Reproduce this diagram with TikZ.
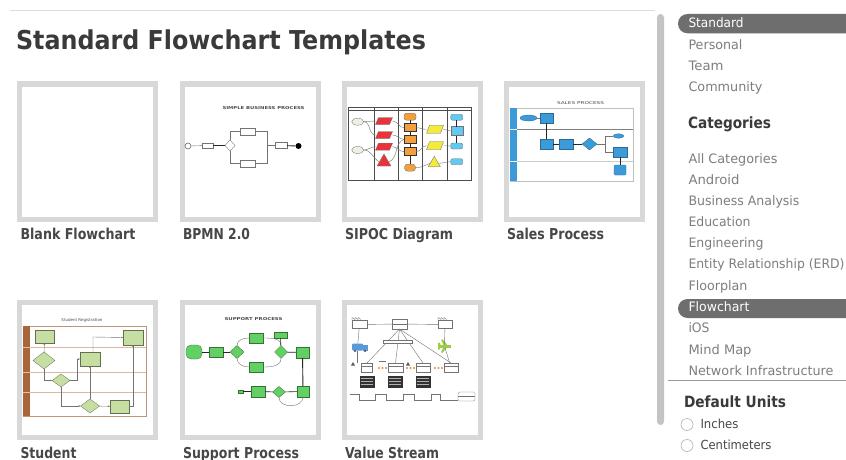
\documentclass[tikz,border=0pt]{standalone}
\usepackage{fontspec}
\usepackage{graphicx}
\setmainfont{DejaVu Sans}
\usetikzlibrary{shapes.geometric,arrows.meta,calc}
% set a text to a given width, keeping its natural height
\newcommand\fitw[2]{\resizebox{#1pt}{\height}{#2}}
% slanted data box: name, x, y, width, height, fill colour
\newcommand\slantbox[6]{%
  \node[box={#4}{#5}] (#1) at (#2,#3) {};
  \filldraw[mini,fill=#6] (#1.south west) -- ($(#1.south east)+(-3,0)$) -- (#1.north east)
    -- ($(#1.north west)+(3,0)$) -- cycle;}
\definecolor{framegray}{HTML}{D8D8D8}
\definecolor{titlegray}{HTML}{3A3A3A}
\definecolor{labelgray}{HTML}{474747}
\definecolor{itemgray}{HTML}{7E7E7E}
\definecolor{pillgray}{HTML}{6E6E6E}
\definecolor{rulegray}{HTML}{DDDDDD}
\definecolor{bargray}{HTML}{C4C4C4}
\definecolor{redfill}{HTML}{E8333B}
\definecolor{orangefill}{HTML}{F2A03D}
\definecolor{yellowfill}{HTML}{F2EA3C}
\definecolor{cyanfill}{HTML}{62C9F2}
\definecolor{beigefill}{HTML}{F0F0E2}
\definecolor{salesblue}{HTML}{3C9AD8}
\definecolor{stugreen}{HTML}{C6DEA2}
\definecolor{stubrown}{HTML}{A9643A}
\definecolor{supgreen}{HTML}{62D062}
\definecolor{truckblue}{HTML}{5A9AD8}
\definecolor{planegreen}{HTML}{9ACD4A}
\definecolor{dotorange}{HTML}{E08A2E}

\begin{document}
\begin{tikzpicture}[x=1pt,y=-1pt,
  txt/.style={anchor=base west,inner sep=0pt,outer sep=0pt},
  heading/.style={txt,text=titlegray,font=\fontsize{15.5}{16}\selectfont\bfseries},
  caption/.style={txt,text=labelgray,font=\fontsize{15}{16}\selectfont\bfseries},
  item/.style={txt,text=itemgray,font=\fontsize{13}{14}\selectfont},
  thumb/.style={draw=framegray,line width=5pt,fill=white,inner sep=0pt,
    minimum width=136pt,minimum height=135pt,anchor=north west},
  box/.style 2 args={rectangle,inner sep=0pt,outer sep=0pt,minimum width=#1pt,minimum height=#2pt},
  dia/.style 2 args={diamond,inner sep=0pt,outer sep=0pt,minimum width=#1pt,minimum height=#2pt},
  ell/.style 2 args={ellipse,inner sep=0pt,outer sep=0pt,minimum width=#1pt,minimum height=#2pt},
  tri/.style={regular polygon,regular polygon sides=3,inner sep=0pt,outer sep=0pt,minimum size=#1pt},
  tiny/.style={inner sep=0pt,font=\fontsize{4}{4}\selectfont\bfseries,text=black!70},
  mini/.style={draw=black!55,line width=0.35pt},
  link/.style={draw=black!55,line width=0.4pt},
  heavy/.style={draw=black!85,line width=0.9pt},
  arr/.style={link,-{Stealth[length=2pt,width=1.6pt]}},
]
\useasboundingbox (0,0) rectangle (846,460);
\fill[white] (0,0) rectangle (846,460);

% ---------- main panel ----------
\draw[rulegray,line width=1pt] (10,11) -- (655,11);
\node[txt,text=titlegray] (title) at (16,50)
  {\fontsize{26}{26}\selectfont\bfseries\fitw{410}{Standard Flowchart Templates}};

% template frames
\node[thumb] (fBlank)   at (16.5,81.5)   {};
\node[thumb] (fBpmn)    at (179.5,81.5)  {};
\node[thumb] (fSipoc)   at (341.5,81.5)  {};
\node[thumb] (fSales)   at (503.5,81.5)  {};
\node[thumb] (fStudent) at (16.5,299.5)  {};
\node[thumb] (fSupport) at (179.5,299.5) {};
\node[thumb] (fValue)   at (341.5,299.5) {};

% captions
\node[caption] (cBlank)   at (20.5,239.3) {\fitw{115}{Blank Flowchart}};
\node[caption] (cBpmn)    at (183,239.3)  {\fitw{67}{BPMN 2.0}};
\node[caption] (cSipoc)   at (345,239.3)  {\fitw{108}{SIPOC Diagram}};
\node[caption] (cSales)   at (507,239.3)  {\fitw{97}{Sales Process}};
\node[caption] (cStudent) at (20.5,458)   {\fitw{56}{Student}};
\node[caption] (cSupport) at (183,458)    {\fitw{116}{Support Process}};
\node[caption] (cValue)   at (345,458)    {\fitw{94}{Value Stream}};

% ---------- BPMN 2.0 ----------
\node[tiny] (bpT) at (263.5,108) {\fitw{82}{SIMPLE BUSINESS PROCESS}};
\node[circle,draw=black!60,line width=0.6pt,minimum size=6pt,inner sep=0pt] (bpS) at (188,146) {};
\node[box={11}{5},mini,fill=white] (bp1) at (207.5,145.5) {};
\node[dia={10}{11},mini,fill=white] (bpG) at (230,145.5) {};
\node[box={15}{7},mini] (bpU) at (247.5,131.5) {};
\node[box={15}{7},mini] (bpL) at (247.5,163.5) {};
\node[box={12}{6},mini] (bpM) at (281,145.5) {};
\node[circle,fill=black,minimum size=6pt,inner sep=0pt] (bpE) at (298.5,146) {};
\coordinate (bpJ) at (267,145.5);
\draw[link] (bpS) -- (bp1);
\draw[heavy,line width=0.7pt] (bp1) -- (bpG);
\draw[link] (bpG.north) |- (bpU.west);
\draw[link] (bpG.south) |- (bpL.west);
\draw[link] (bpU.east) -| (bpJ) -- (bpM.west);
\draw[link] (bpL.east) -| (bpJ);
\draw[heavy] (bpM) -- (bpE);

% ---------- SIPOC ----------
\draw[black!70,line width=0.8pt] (348,107) rectangle (471,180);
\draw[black!70,line width=0.4pt] (348,110.5) -- (471,110.5);
\foreach \cx in {374,398,422,447} \draw[black!70,line width=0.6pt] (\cx,107) -- (\cx,180);
\node[ell={12}{7},mini,fill=beigefill] (sE1) at (357.7,121.7) {};
\node[ell={12}{7},mini,fill=beigefill] (sE2) at (357.7,150) {};
\slantbox{sR1}{384}{121}{17}{7}{redfill}
\slantbox{sR2}{384}{135}{17}{7}{redfill}
\slantbox{sR3}{384}{146.7}{17}{7}{redfill}
\node[tri={16},mini,fill=redfill] (sR4) at (384,162) {};
\node[box={12}{7},mini,fill=orangefill,rounded corners=2.5pt] (sO1) at (410,116.7) {};
\node[box={12}{8},draw=black!80,line width=0.5pt,fill=orangefill] (sO2) at (410,127.7) {};
\node[box={12}{8},draw=black!80,line width=0.5pt,fill=orangefill] (sO3) at (410,139.3) {};
\node[box={12}{8},draw=black!80,line width=0.5pt,fill=orangefill] (sO4) at (410,151.7) {};
\node[box={11}{7},mini,fill=orangefill,rounded corners=3pt] (sO5) at (410,167.7) {};
\slantbox{sY1}{435}{129.3}{17}{8}{yellowfill}
\slantbox{sY2}{435}{145.7}{17}{8}{yellowfill}
\node[tri={14},mini,fill=yellowfill] (sY3) at (434.3,163.3) {};
\node[box={12}{6},mini,fill=cyanfill,rounded corners=2pt] (sC1) at (456.7,117.3) {};
\node[box={12}{9},mini,fill=cyanfill] (sC2) at (456.7,131) {};
\node[box={12}{6},mini,fill=cyanfill,rounded corners=2pt] (sC3) at (456.7,146) {};
\node[box={12}{6},mini,fill=cyanfill,rounded corners=2pt] (sC4) at (456.7,161.7) {};
\draw[link] (sE1.east) to[out=0,in=180] (sR1.west);
\draw[link] (sE1.east) to[out=0,in=180] (sR2.west);
\draw[link] (sE2.east) to[out=0,in=180] (sR3.west);
\draw[link] (sE2.east) to[out=0,in=150] (sR4.west);
\draw[link] (sR1.east) to[out=0,in=180] (sO2.west);
\draw[link] (sR2.east) to[out=0,in=180] (sO3.west);
\draw[link] (sR3.east) to[out=0,in=180] (sO4.west);
\draw[link] (sR4.east) to[out=20,in=200] (sO3.west);
\draw[heavy,line width=0.6pt] (sO1) -- (sO2) -- (sO3) -- (sO4) -- (sO5);
\draw[link] (sO2.east) to[out=0,in=180] (sY1.west);
\draw[link] (sO4.east) to[out=0,in=180] (sY2.west);
\draw[link] (sO5.east) to[out=0,in=200] (sY3.west);
\draw[link] (sY1.east) to[out=0,in=180] (sC2.west);
\draw[link] (sY2.east) to[out=0,in=180] (sC3.west);
\draw[link] (sY3.east) to[out=0,in=180] (sC4.west);
\draw[heavy,line width=0.6pt] (sC1) -- (sC2) -- (sC3);

% ---------- Sales Process ----------
\node[tiny,font=\fontsize{4}{4}\selectfont] (slT) at (580.5,103) {\fitw{47}{SALES PROCESS}};
\draw[black!25,line width=0.5pt] (510,108) rectangle (633,181);
\draw[black!50,line width=0.6pt] (510,129) -- (633,129);
\draw[black!20,line width=0.5pt] (510,161) -- (633,161);
\fill[salesblue] (510,108) rectangle (517,181);
\draw[white,line width=0.5pt] (510,129) -- (517,129) (510,161) -- (517,161);
\tikzset{sb/.style={draw=salesblue!70!black,line width=0.3pt,fill=salesblue}}
\node[ell={17}{6},sb] (sa1) at (528.5,118) {};
\node[box={13}{10},sb] (sa2) at (546.5,118) {};
\node[box={13}{10},sb] (sa3) at (546.5,144) {};
\node[box={14}{10},sb] (sa4) at (566,144) {};
\node[dia={15}{12},sb] (sa5) at (589.5,144) {};
\node[ell={11}{4.5},sb] (sa6) at (618.5,136) {};
\node[box={14}{10},sb] (sa7) at (620,152) {};
\node[box={12}{10},sb,rounded corners=1pt] (sa8) at (620,170) {};
\coordinate (saJ) at (605,144);
\draw[link] (sa1) -- (sa2);
\draw[heavy] (sa2) -- (sa3);
\draw[heavy,line width=0.7pt] (sa3) -- (sa4);
\draw[heavy,line width=0.7pt] (sa4) -- (sa5);
\draw[link] (sa5.east) -- (saJ) |- (sa6.west);
\draw[link] (saJ) |- (sa7.west);
\draw[heavy] (sa7) -- (sa8);

% ---------- Student ----------
\node[tiny,font=\fontsize{4}{4}\selectfont] (stT) at (82,320) {\fitw{41}{Student Registration}};
\draw[stubrown!70,line width=0.5pt] (23,326) rectangle (146,416);
\foreach \ly in {347,372,392} \draw[stubrown!45,line width=0.6pt] (30,\ly) -- (146,\ly);
\fill[stubrown] (23,326) rectangle (30,416);
\foreach \ly in {347,372,392} \draw[stubrown!40,line width=0.4pt] (23,\ly) -- (30,\ly);
\tikzset{sg1/.style={draw=stugreen!50!black,line width=0.3pt,fill=stugreen}}
\node[box={19}{13},sg1] (st1) at (44.5,336.5) {};
\node[dia={22}{17},sg1] (st2) at (44,360.5) {};
\node[dia={18}{13},sg1] (st3) at (61,380.5) {};
\node[box={20}{14},sg1] (st4) at (90,359) {};
\node[box={20}{15},sg1] (st5) at (133,337.5) {};
\node[dia={19}{14},sg1] (st6) at (90,406) {};
\node[box={19}{13},sg1] (st7) at (119.5,406.5) {};
\coordinate (stA) at (77,380.5);
\coordinate (stB) at (93,337);
\draw[arr] (st2) -- (st1);
\draw[arr] (st2.south) |- (st3.west);
\draw[arr] (st3.east) -- (stA) |- (st4.west);
\draw[arr] (st4.north -| stB) -- (stB) -- (st5.west);
\draw[arr] (st3.south) |- (st6.west);
\draw[arr] (st6.north) -- (st4.south);
\draw[arr] (st6) -- (st7);
\draw[arr] (st7.east) -| (st5.south);

% ---------- Support Process ----------
\node[tiny] (suT) at (253.5,319) {\fitw{58}{SUPPORT PROCESS}};
\tikzset{sg/.style={draw=supgreen!55!black,line width=0.3pt,fill=supgreen}}
\node[box={16}{14},sg,rounded corners=5pt] (su1) at (194,352) {};
\node[box={14}{10},sg] (su2) at (216,352) {};
\node[dia={14}{13},sg] (su3) at (237,352) {};
\node[box={14}{10},sg] (su4) at (256,338) {};
\node[box={14}{10},sg] (su5) at (256,367) {};
\node[box={13}{6},sg] (su6) at (280.5,335) {};
\node[dia={13}{13},sg] (su7) at (281,352) {};
\node[box={13}{11},sg] (su8) at (302.5,352.5) {};
\node[box={12}{11},sg] (su9) at (303,391.5) {};
\node[dia={13}{11},sg] (su10) at (279,392) {};
\node[box={14}{11},sg] (su11) at (258,391.5) {};
\node[box={5}{3},sg] (su12) at (240.5,391.5) {};
\draw[heavy,line width=0.7pt] (su1) -- (su2);
\draw[heavy,line width=0.7pt] (su2) -- (su3);
\draw[link] (su3.north) to[out=90,in=180] (su4.west);
\draw[link] (su3.south) to[out=-90,in=180] (su5.west);
\draw[link] (su4.east) to[out=0,in=90] (su7.north);
\draw[link] (su5.east) to[out=0,in=-90] (su7.south);
\draw[heavy,line width=0.6pt] (su7) -- (su6);
\draw[heavy,line width=0.7pt] (su7) -- (su8);
\draw[heavy] (su8) -- (su9);
\draw[heavy,line width=0.6pt] (su9) -- (su10);
\draw[heavy,line width=0.6pt] (su10) -- (su11);
\draw[heavy,line width=0.6pt] (su11) -- (su12);
\draw[link] (su10.south) to[out=-90,in=-90,looseness=1.2] (su9.south);

% ---------- Value Stream ----------
\tikzset{vb/.style={draw=black!55,line width=0.35pt,fill=white}}
\node[box={15}{8},vb] (vsS) at (359.5,324.5) {};
\draw[mini] (vsS.north west) -- ++(0,-3) -- ++(3,2) -- ++(0,-2) -- ++(3,2) -- ++(0,-2) -- ++(3,2);
\node[box={15}{10},vb] (vsC) at (399.5,324) {};
\draw[mini] (vsC.west) -- (vsC.east);
\node[box={14}{8},vb] (vsK) at (445,324.5) {};
\draw[mini] (vsK.north west) -- ++(0,-3) -- ++(3,2) -- ++(0,-2) -- ++(3,2) -- ++(0,-2) -- ++(3,2);
\draw[link] (vsS) -- (vsC);
\draw[link] (vsC) -- (vsK);
% supplier truck and customer plane
\node[box={11}{7},fill=truckblue,rounded corners=1pt] (vsTr) at (357.5,347) {};
\fill[truckblue] (363,344.5) rectangle (368,350.5);
\fill[black!70] (355,351) circle (1.2pt) (365,351) circle (1.2pt);
\node[box={13}{3},fill=planegreen] (vsPl) at (444.5,346) {};
\fill[planegreen] (441,339.5) -- (443,339.5) -- (448,346) -- (443,352.5) -- (441,352.5) -- (444,346) -- cycle;
\fill[planegreen] (438,342.5) -- (439.5,342.5) -- (441,346) -- (439.5,349.5) -- (438,349.5) -- cycle;
% processes
\node[box={11}{9},vb] (vsP1) at (367,367.5) {};
\node[box={15}{9},vb] (vsP2) at (395.5,367.5) {};
\node[box={14}{9},vb] (vsP3) at (423,367.5) {};
\node[box={14}{9},vb] (vsP4) at (451,367.5) {};
\foreach \p in {vsP1,vsP2,vsP3,vsP4} \draw[mini] ($(\p.west)+(0,-1.5)$) -- ($(\p.east)+(0,-1.5)$);
\draw[link] (vsC.south) -- (vsP1.north);
\draw[link] (vsC.south) -- (vsP2.north);
\draw[link] (vsC.south) -- (vsP3.north);
\draw[link] (vsC.south) -- (vsP4.north);
\draw[link] (vsS) -- (vsTr);
\draw[link] (vsK) -- (vsPl);
\draw[link] (vsTr) -- (vsP1.north -| vsTr);
\draw[link] (vsPl) -- (vsP4);
\node[box={29}{3},vb] (vsB) at (397.5,341.5) {};
% inventory
\foreach \ix in {353,408} \fill[black!65] (\ix,362) -- (\ix+2,365.5) -- (\ix-2,365.5) -- cycle;
\foreach \ix in {379,382.5,386,407,410.5,414,435,438.5,442}
  \fill[dotorange] (\ix,368) circle (1.1pt);
\draw[link] (379,361) -- (386,361);
% data boxes
\foreach \n/\dx in {vsD1/367,vsD2/395,vsD3/423}{
  \node[box={15}{12},fill=black!80] (\n) at (\dx,381.5) {};
  \foreach \dy in {-3,0,3} \draw[white!70!black,line width=0.5pt] ($(\n.center)+(-6,\dy)$) -- ($(\n.center)+(6,\dy)$);
}
% timeline
\node[box={17}{9},vb,rounded corners=1.5pt] (vsT) at (466.5,396.5) {};
\draw[mini] (vsT.west) -- (vsT.east);
\coordinate (vsTe) at (458,400);
\draw[link] (350,394) -- (359,394) -- (359,400) -- (375,400) -- (375,394) -- (386,394) -- (386,400)
  -- (403,400) -- (403,394) -- (414,394) -- (414,400) -- (431,400) -- (431,394) -- (440,394)
  -- (440,400) -- (vsTe);

% ---------- side panel ----------
\fill[bargray,rounded corners=3.5pt] (657,14) rectangle (664,425);
\fill[pillgray,rounded corners=9.5pt] (678,14) rectangle (870,33.3);
\fill[pillgray,rounded corners=9.5pt] (678,299) rectangle (870,318);
\node[item,text=white] (iStandard) at (688.5,27.7) {\fitw{55}{Standard}};
\node[item] (iPersonal)  at (688.5,49.3) {\fitw{54}{Personal}};
\node[item] (iTeam)      at (688.5,70.7) {\fitw{35}{Team}};
\node[item] (iCommunity) at (688.5,92)   {\fitw{74}{Community}};
\node[heading] (hCat) at (688,128.3) {\fitw{83}{Categories}};
\node[item] (iAll)   at (688.5,163.3) {\fitw{89}{All Categories}};
\node[item] (iAnd)   at (688.5,184.3) {\fitw{51}{Android}};
\node[item] (iBus)   at (688.5,205.5) {\fitw{111}{Business Analysis}};
\node[item] (iEdu)   at (688.5,226.5) {\fitw{62}{Education}};
\node[item] (iEng)   at (688.5,247.5) {\fitw{75}{Engineering}};
\node[item] (iErd)   at (688.5,268.7) {\fitw{156}{Entity Relationship (ERD)}};
\node[item] (iFloor) at (688.5,290)   {\fitw{59}{Floorplan}};
\node[item,text=white] (iFlow) at (688.5,311.7) {\fitw{61}{Flowchart}};
\node[item] (iIos)   at (688.5,332.8) {\fitw{21}{iOS}};
\node[item] (iMind)  at (688.5,354)   {\fitw{63}{Mind Map}};
\node[item] (iNet)   at (688.5,375.3) {\fitw{145}{Network Infrastructure}};
\draw[black!40,line width=0.7pt] (668,380.5) -- (846,380.5);
\node[heading] (hUnits) at (684,407.3) {\fitw{102}{Default Units}};
\node[circle,draw=black!30,fill=white,line width=0.6pt,minimum size=12pt,inner sep=0pt] (rIn) at (687,424.5) {};
\node[circle,draw=black!30,fill=white,line width=0.6pt,minimum size=12pt,inner sep=0pt] (rCm) at (687,445.5) {};
\node[item,text=labelgray,font=\fontsize{12.5}{13}\selectfont] (lIn) at (700.5,428.3) {\fitw{38}{Inches}};
\node[item,text=labelgray,font=\fontsize{12.5}{13}\selectfont] (lCm) at (700.5,449.3) {\fitw{71}{Centimeters}};
\end{tikzpicture}
\end{document}
